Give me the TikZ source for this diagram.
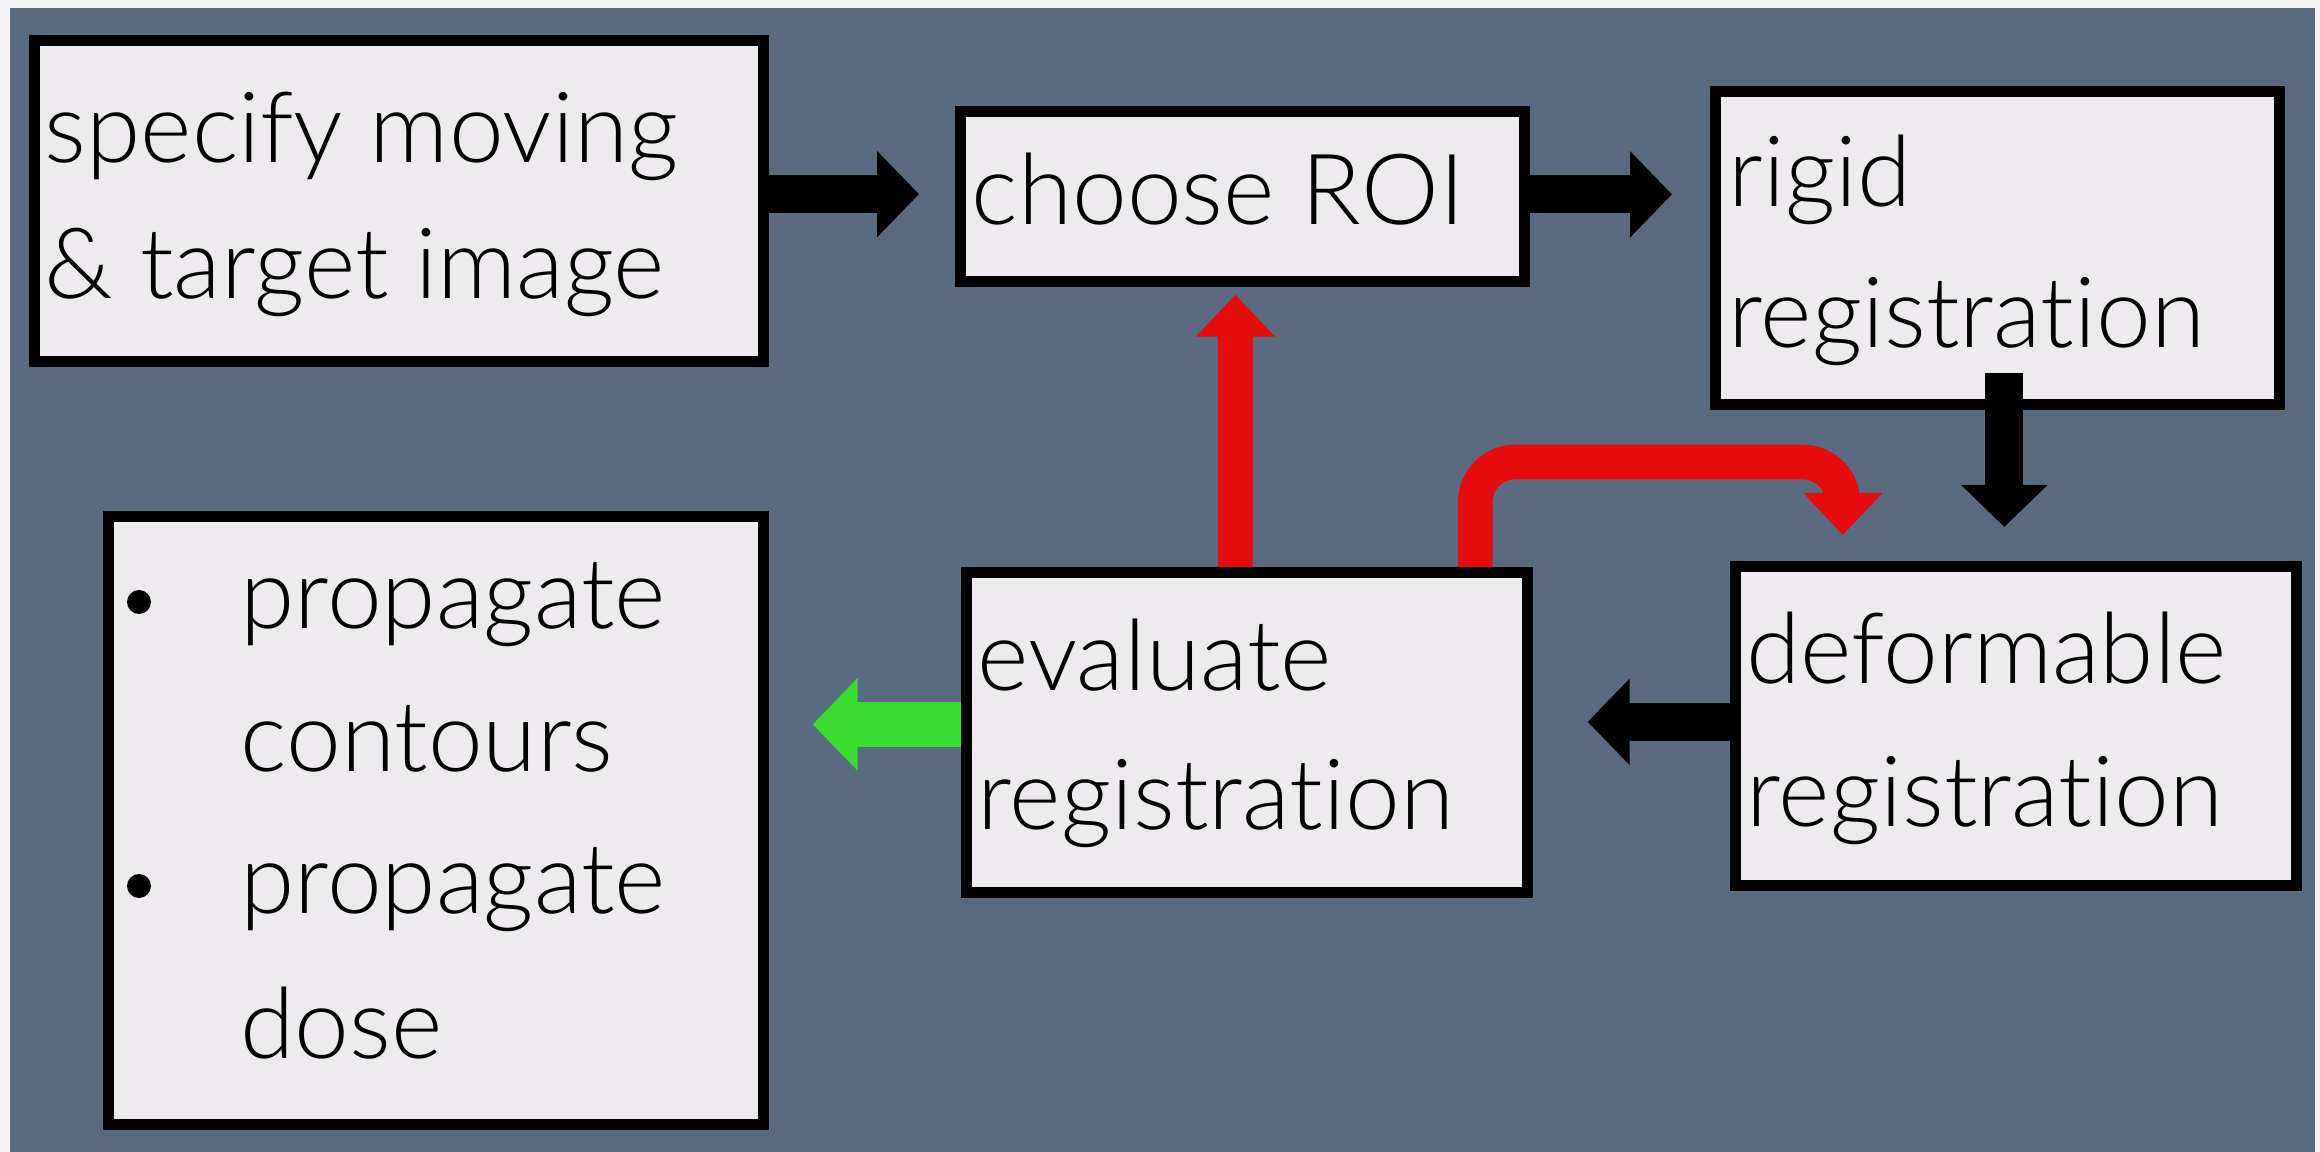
\documentclass[tikz,border=0pt]{standalone}
\usepackage{fontspec}
\setmainfont{Lato}[UprightFont={* Light}, Ligatures={NoCommon}]
\usetikzlibrary{arrows.meta}
\definecolor{bgslate}{RGB}{90,106,128}
\definecolor{boxfill}{RGB}{237,235,238}
\definecolor{redarr}{RGB}{230,12,14}
\definecolor{greenarr}{RGB}{58,222,48}
\definecolor{marginc}{RGB}{244,244,247}
\begin{document}
\begin{tikzpicture}[x=0.3pt,y=-0.3pt,
  stepbox/.style={draw=black, line width=3.2pt, fill=boxfill, inner sep=0pt, anchor=north west},
  lbl/.style={anchor=base west, inner sep=0pt, font=\fontsize{29.5}{35}\selectfont, text=black},
  blkarrow/.style={draw=black, line width=11.4pt, -{Triangle[length=12.6pt,width=25.2pt]}},
  grnarrow/.style={draw=greenarr, line width=13.5pt, -{Triangle[length=13.5pt,width=27pt]}},
  redarrow/.style={draw=redarr, line width=10.4pt, -{Triangle[length=12.6pt,width=23pt]}},
  dotmark/.style={circle, fill=black, inner sep=0pt, minimum size=7.2pt}
]
\useasboundingbox (0,0) rectangle (2320,1152);
\fill[marginc] (0,0) rectangle (2320,1152);
\fill[bgslate] (10,8) rectangle (2315,1152);

% boxes
\node[stepbox, minimum width=218.7pt, minimum height=96.3pt] (b1) at (29,35) {};
\node[stepbox, minimum width=169.2pt, minimum height=51pt] (b2) at (955,106) {};
\node[stepbox, minimum width=169.2pt, minimum height=93.9pt] (b3) at (1710,86) {};
\node[stepbox, minimum width=196.5pt, minimum height=182.4pt] (b4) at (103,511) {};
\node[stepbox, minimum width=168.3pt, minimum height=96pt] (b5) at (961,567) {};
\node[stepbox, minimum width=168.3pt, minimum height=95.7pt] (b6) at (1730,561) {};

% connectors
\draw[blkarrow, shorten >=10.8pt] ([yshift=2pt]b1.east) -- ([yshift=2pt]b1.east -| b2.west);
\draw[blkarrow, shorten >=11.4pt] ([yshift=0.6pt]b2.east) -- ([yshift=0.6pt]b2.east -| b3.west);
\draw[blkarrow, shorten >=10.2pt] ([shift={(7,-37)}]b3.south) -- ([shift={(7,0)}]b3.south |- b6.north);
\draw[blkarrow, shorten >=16.5pt] ([yshift=1.2pt]b6.west) -- ([yshift=1.2pt]b6.west -| b5.east);
\draw[grnarrow, shorten >=13.2pt] ([yshift=2.4pt]b5.west) -- ([yshift=2.4pt]b5.west -| b4.east);
\draw[redarrow, shorten >=2.4pt] ([shift={(-11.5,0)}]b5.north) -- ([shift={(-11.5,0)}]b5.north |- b2.south);
\draw[redarrow, rounded corners=12pt] ([shift={(228.5,0)}]b5.north) |- ([shift={(-173,-99)}]b6.north) -- ([shift={(-173,-26)}]b6.north);

% labels
\node[lbl] (t1a) at (44,163) {specify moving};
\node[lbl] (t1b) at (44,299) {\& target image};
\node[lbl] (t2) at (971,225) {choose ROI};
\node[lbl] (t3a) at (1728,207) {rigid};
\node[lbl] (t3b) at (1728,348) {registration};
\node[lbl] (t5a) at (977,691) {evaluate};
\node[lbl] (t5b) at (977,829) {registration};
\node[lbl] (t6a) at (1746,684) {deformable};
\node[lbl] (t6b) at (1746,826) {registration};
\node[dotmark] (d1) at (139,602) {};
\node[lbl] (t4a) at (240,629) {propagate};
\node[lbl] (t4b) at (240,772) {contours};
\node[dotmark] (d2) at (139,886) {};
\node[lbl] (t4c) at (240,913) {propagate};
\node[lbl] (t4d) at (240,1058) {dose};
\end{tikzpicture}
\end{document}
